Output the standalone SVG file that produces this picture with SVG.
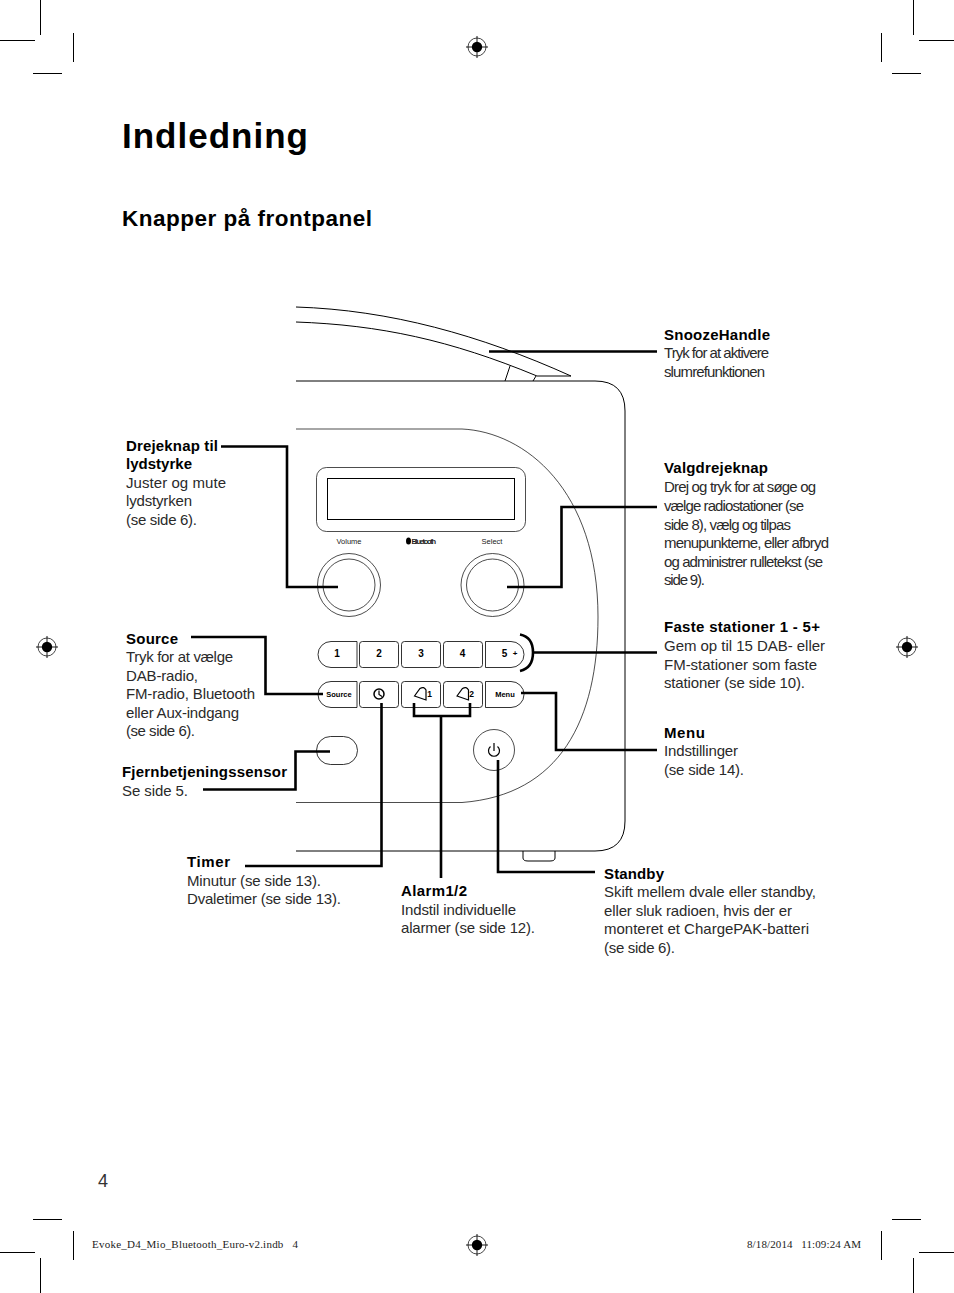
<svg xmlns="http://www.w3.org/2000/svg" xmlns:xlink="http://www.w3.org/1999/xlink" width="954" height="1293" viewBox="0 0 954 1293">
<style>
text{font-family:"Liberation Sans",Arial,sans-serif;fill:#1a1a1a;white-space:pre}
.l{font-size:15px;fill:#2a2a2a}
.b{font-size:15px;font-weight:700;fill:#000}
.t{fill:none;stroke:#000;stroke-width:1}
.h{fill:none;stroke:#000;stroke-width:.7}
.c{fill:none;stroke:#000;stroke-width:2.6}
.k{fill:#fff;stroke:#000;stroke-width:.8}
.n{font-size:10px;font-weight:700;text-anchor:middle;fill:#000}
.s{font-size:7.5px;text-anchor:middle;fill:#222}
.f{font-family:"Liberation Serif",serif;font-size:11px;fill:#222}
.i{fill:none;stroke:#000;stroke-width:1.2}
.h1{font-weight:700;fill:#000}
</style>
<defs>
<g id="reg"><circle r="9" fill="none" stroke="#333" stroke-width=".9"/><circle r="5.200" fill="#000"/><path d="M-11 0H11M0-11V11" stroke="#000" stroke-width=".9"/></g>
</defs>
<rect width="954" height="1293" fill="#fff"/>
<g id="crop-marks">
<path class="t" d="M40.5 0V35M0 40.5H35M73.5 33V62M33 73.5H62M913.5 0V35M919 40.5H954M881.5 33V62M892 73.5H921M33 1219.5H62M73.5 1231V1260M0 1252.5H35M40.5 1258V1293M892 1219.5H921M881.5 1231V1260M919 1252.5H954M913.5 1258V1293"/>
<use xlink:href="#reg" href="#reg" x="477" y="47"/>
<use xlink:href="#reg" href="#reg" x="47" y="647"/>
<use xlink:href="#reg" href="#reg" x="907" y="647"/>
<use xlink:href="#reg" href="#reg" x="477" y="1245"/>
</g>
<g id="headings">
<text x="122" y="148" class="h1" font-size="35" textLength="186">Indledning</text>
<text x="122" y="226" class="h1" font-size="22.500" textLength="250">Knapper på frontpanel</text>
<text x="98" y="1187" font-size="18" style="fill:#333">4</text>
</g>
<g id="radio-body">
<path class="t" d="M296 307C390 310 480 335 571 376H537C450 340 380 325 296 322M510 366L505 381M536 376L533 381"/>
<path class="t" d="M296 381H595Q625 381 625 411V821Q625 851 595 851H296M523 851V858Q523 861 528 861H550Q555 861 555 858V851"/>
<path class="h" d="M296 429H462C525 432 598 490 598 617C598 720 560 795 462 802.500H296"/>
</g>
<g id="display">
<rect x="316.500" y="467.500" width="209" height="64" rx="10" class="h"/>
<rect x="327.500" y="478.500" width="187" height="41" class="t"/>
</g>
<g id="volume-knob">
<text x="349" y="544" class="s">Volume</text>
<circle cx="349" cy="585" r="31.500" class="h"/><circle cx="349" cy="585" r="26" class="h"/>
</g>
<g id="bluetooth-logo"><ellipse cx="408.500" cy="541" rx="2.500" ry="3.500" fill="#000"/><text x="411.500" y="544" style="font-size:7.500px;font-weight:700;fill:#222" textLength="24.500">Bluetooth</text></g>
<g id="select-knob">
<text x="492" y="544" class="s">Select</text>
<circle cx="492.500" cy="585" r="31.500" class="h"/><circle cx="492.500" cy="585" r="26" class="h"/>
</g>
<g id="preset-1"><path class="k" d="M331 641.500H357V667.500H331A13 13 0 0 1 331 641.500Z"/><text x="337" y="657" class="n">1</text></g>
<g id="preset-2"><rect x="359.500" y="641.500" width="39" height="26" rx="3" class="k"/><text x="379" y="657" class="n">2</text></g>
<g id="preset-3"><rect x="401.500" y="641.500" width="39" height="26" rx="3" class="k"/><text x="421" y="657" class="n">3</text></g>
<g id="preset-4"><rect x="443.500" y="641.500" width="39" height="26" rx="3" class="k"/><text x="462.500" y="657" class="n">4</text></g>
<g id="preset-5"><path class="k" d="M485.500 641.500H511A13 13 0 0 1 511 667.500H485.500Z"/><text x="504.500" y="657" class="n">5</text><text x="515" y="656" class="n" style="font-size:8px">+</text></g>
<g id="btn-source"><path class="k" d="M331 681.500H357V707.500H331A13 13 0 0 1 331 681.500Z"/><text x="339" y="697" class="n" style="font-size:7.500px">Source</text></g>
<g id="btn-timer"><rect x="359.500" y="681.500" width="39" height="26" rx="3" class="k"/><circle cx="379" cy="694" r="5" fill="none" stroke="#000" stroke-width="1.500"/><path d="M379 690.500V694.500L382 696.500" class="i"/></g>
<g id="btn-alarm1"><rect x="401.500" y="681.500" width="39" height="26" rx="3" class="k"/><path d="M414.500 696L420 688.500Q424 686 426 690L426 700Z" class="i"/><text x="429.500" y="697" class="n" style="font-size:8.500px">1</text></g>
<g id="btn-alarm2"><rect x="443.500" y="681.500" width="39" height="26" rx="3" class="k"/><path d="M457 696L462.500 688.500Q466.500 686 468.500 690L468.500 700Z" class="i"/><text x="471.500" y="697" class="n" style="font-size:8.500px">2</text></g>
<g id="btn-menu"><path class="k" d="M485.500 681.500H511A13 13 0 0 1 511 707.500H485.500Z"/><text x="505" y="697" class="n" style="font-size:7.500px">Menu</text></g>
<g id="remote-sensor"><rect x="316.500" y="736.500" width="41" height="28" rx="14" class="k" style="fill:none"/></g>
<g id="power-button"><circle cx="494" cy="750" r="20.500" class="h"/><path d="M490.500 746.500A5.500 5.500 0 1 0 497.500 746.500M494 743V751" class="i"/></g>
<g id="connectors">
<path class="c" d="M489 351.500H657"/>
<path class="c" d="M657 507H561.500V587H507"/>
<path class="c" d="M221 446.500H287V587H338"/>
<path class="c" d="M191 637H265.500V694H323"/>
<path class="c" d="M203 789.500H295.500V751.500H330"/>
<path class="c" d="M245 866H381.500V703"/>
<path class="c" d="M414 703V716H470V703M441 716V878"/>
<path class="c" d="M595 872H498V760"/>
<path class="c" d="M657 750H556V693H521"/>
<path class="c" d="M520 634.500Q533 637 533 652.500Q533 668 520 671M533 652.500H657"/>
</g>
<g id="label-snooze"><text x="664" y="340" class="b" textLength="106">SnoozeHandle</text><text x="664" y="358" class="l" textLength="105">Tryk for at aktivere</text><text x="664" y="377" class="l" textLength="101">slumrefunktionen</text></g>
<g id="label-select"><text x="664" y="473" class="b" textLength="104">Valgdrejeknap</text><text x="664" y="492" class="l" textLength="152">Drej og tryk for at søge og</text><text x="664" y="511" class="l" textLength="140">vælge radiostationer (se</text><text x="664" y="530" class="l" textLength="127">side 8), vælg og tilpas</text><text x="664" y="548" class="l" textLength="165">menupunkterne, eller afbryd</text><text x="664" y="567" class="l" textLength="159">og administrer rulletekst (se</text><text x="664" y="585" class="l" textLength="41">side 9).</text></g>
<g id="label-presets"><text x="664" y="632" class="b" textLength="156">Faste stationer 1 - 5+</text><text x="664" y="651" class="l" textLength="161">Gem op til 15 DAB- eller</text><text x="664" y="670" class="l" textLength="153">FM-stationer som faste</text><text x="664" y="688" class="l" textLength="141">stationer (se side 10).</text></g>
<g id="label-menu"><text x="664" y="738" class="b" textLength="41">Menu</text><text x="664" y="756" class="l" textLength="74">Indstillinger</text><text x="664" y="775" class="l" textLength="80">(se side 14).</text></g>
<g id="label-volume"><text x="126" y="451" class="b" textLength="92">Drejeknap til</text><text x="126" y="469" class="b" textLength="66">lydstyrke</text><text x="126" y="488" class="l" textLength="100">Juster og mute</text><text x="126" y="506" class="l" textLength="66">lydstyrken</text><text x="126" y="525" class="l" textLength="71">(se side 6).</text></g>
<g id="label-source"><text x="126" y="644" class="b" textLength="52">Source</text><text x="126" y="662" class="l" textLength="107">Tryk for at vælge</text><text x="126" y="681" class="l" textLength="72">DAB-radio,</text><text x="126" y="699" class="l" textLength="129">FM-radio, Bluetooth</text><text x="126" y="718" class="l" textLength="113">eller Aux-indgang</text><text x="126" y="736" class="l" textLength="69">(se side 6).</text></g>
<g id="label-sensor"><text x="122" y="777" class="b" textLength="165">Fjernbetjeningssensor</text><text x="122" y="796" class="l" textLength="66">Se side 5.</text></g>
<g id="label-timer"><text x="187" y="867" class="b" textLength="43">Timer</text><text x="187" y="886" class="l" textLength="134">Minutur (se side 13).</text><text x="187" y="904" class="l" textLength="154">Dvaletimer (se side 13).</text></g>
<g id="label-alarm"><text x="401" y="896" class="b" textLength="66">Alarm1/2</text><text x="401" y="915" class="l" textLength="115">Indstil individuelle</text><text x="401" y="933" class="l" textLength="134">alarmer (se side 12).</text></g>
<g id="label-standby"><text x="604" y="879" class="b" textLength="60">Standby</text><text x="604" y="897" class="l" textLength="212">Skift mellem dvale eller standby,</text><text x="604" y="916" class="l" textLength="188">eller sluk radioen, hvis der er</text><text x="604" y="934" class="l" textLength="205">monteret et ChargePAK-batteri</text><text x="604" y="953" class="l" textLength="71">(se side 6).</text></g>
<g id="footer"><text x="92" y="1248" class="f" textLength="206">Evoke_D4_Mio_Bluetooth_Euro-v2.indb   4</text><text x="747" y="1248" class="f" textLength="114">8/18/2014   11:09:24 AM</text></g>
</svg>
